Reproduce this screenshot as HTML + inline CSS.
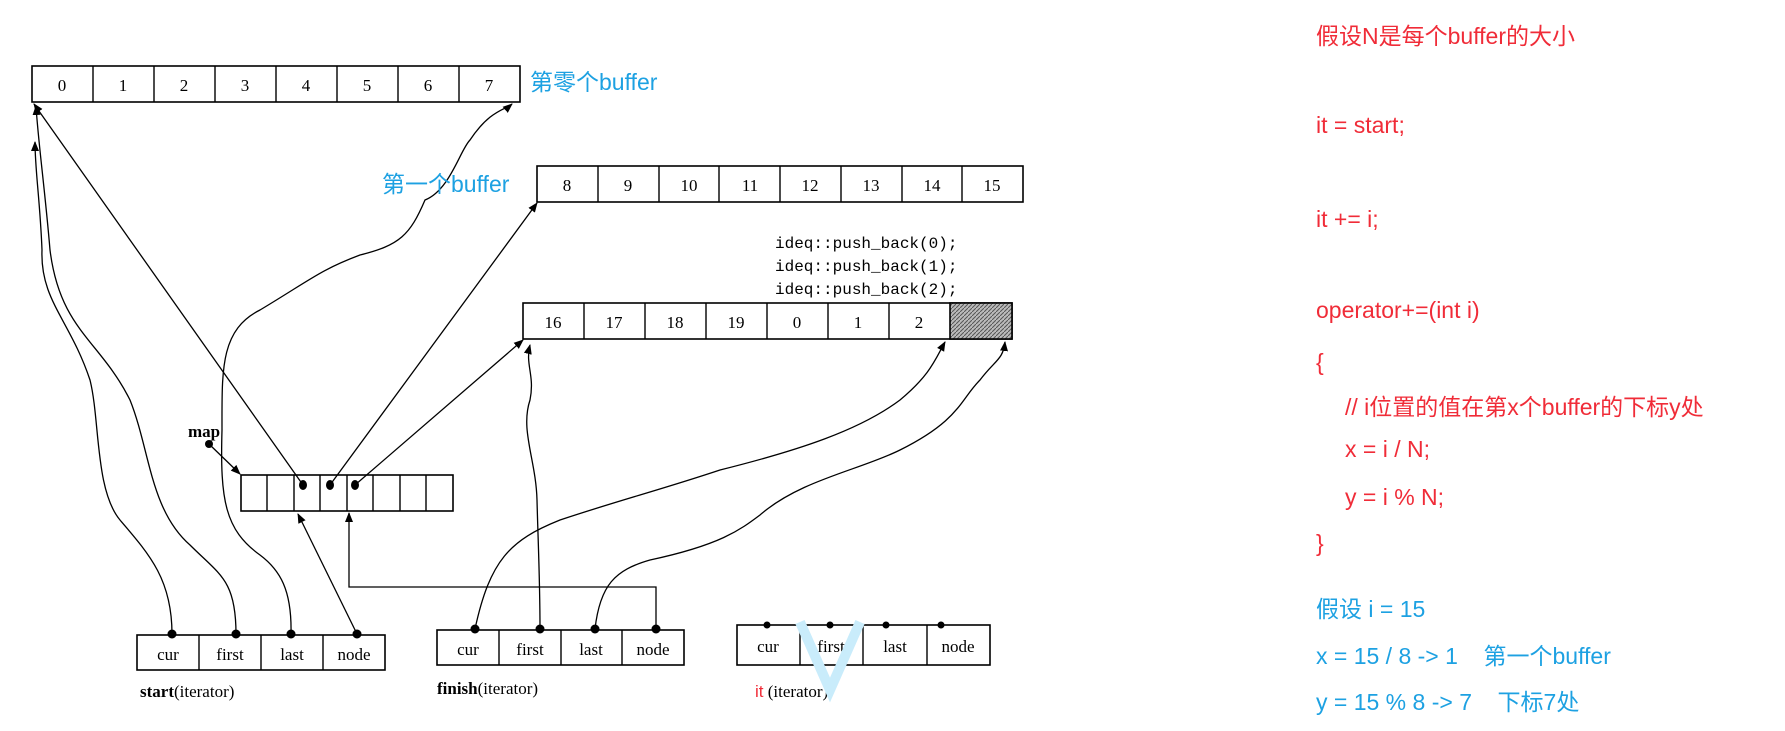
<!DOCTYPE html>
<html><head><meta charset="utf-8"><style>
body{margin:0;width:1785px;height:731px;background:#fff;overflow:hidden;position:relative}
svg{position:absolute;left:0;top:0}
.r{position:absolute;font-family:"Liberation Sans","Noto Sans CJK SC",sans-serif;font-size:23px;color:#f02c38;white-space:pre;line-height:1}
.b{color:#1da1e2}
</style></head><body>
<svg width="1785" height="731" viewBox="0 0 1785 731" font-family="Liberation Serif, serif">
<defs>
<marker id="a" markerWidth="10" markerHeight="10" refX="9" refY="5" orient="auto" markerUnits="userSpaceOnUse"><path d="M0,1 L10,5 L0,9 z" fill="#000"/></marker>
<pattern id="h" width="4" height="4" patternUnits="userSpaceOnUse"><rect width="4" height="4" fill="#bbb"/><path d="M0,4 L4,0" stroke="#555" stroke-width="1"/></pattern>
</defs>
<g stroke="#000" stroke-width="1.6" fill="#fff">
<rect x="32" y="66" width="488" height="36"/>
<rect x="537" y="166" width="486" height="36"/>
<rect x="523" y="303" width="489" height="36"/>
<rect x="950" y="303" width="62" height="36" fill="url(#h)"/>
<rect x="241" y="475" width="212" height="36"/>
<rect x="137" y="635" width="248" height="35"/>
<rect x="437" y="630" width="247" height="35"/>
<rect x="737" y="625" width="253" height="40"/>
</g>
<g stroke="#000" stroke-width="1.4">
<path d="M93,66v36M154,66v36M215,66v36M276,66v36M337,66v36M398,66v36M459,66v36"/>
<path d="M598,166v36M659,166v36M719,166v36M780,166v36M841,166v36M902,166v36M962,166v36"/>
<path d="M584,303v36M645,303v36M706,303v36M767,303v36M828,303v36M889,303v36"/>
<path d="M267,475v36M294,475v36M320,475v36M347,475v36M373,475v36M400,475v36M426,475v36"/>
<path d="M199,635v35M261,635v35M323,635v35"/>
<path d="M499,630v35M561,630v35M622,630v35"/>
<path d="M800,625v40M863,625v40M927,625v40"/>
</g>
<g font-size="17" text-anchor="middle">
<text x="62" y="91">0</text><text x="123" y="91">1</text><text x="184" y="91">2</text><text x="245" y="91">3</text><text x="306" y="91">4</text><text x="367" y="91">5</text><text x="428" y="91">6</text><text x="489" y="91">7</text>
<text x="567" y="191">8</text><text x="628" y="191">9</text><text x="689" y="191">10</text><text x="750" y="191">11</text><text x="810" y="191">12</text><text x="871" y="191">13</text><text x="932" y="191">14</text><text x="992" y="191">15</text>
<text x="553" y="328">16</text><text x="614" y="328">17</text><text x="675" y="328">18</text><text x="736" y="328">19</text><text x="797" y="328">0</text><text x="858" y="328">1</text><text x="919" y="328">2</text>
<text x="168" y="660">cur</text><text x="230" y="660">first</text><text x="292" y="660">last</text><text x="354" y="660">node</text>
<text x="468" y="655">cur</text><text x="530" y="655">first</text><text x="591" y="655">last</text><text x="653" y="655">node</text>
<text x="768" y="652">cur</text><text x="831" y="652">first</text><text x="895" y="652">last</text><text x="958" y="652">node</text>
</g>
<g font-family="Liberation Mono, monospace" font-size="16">
<text x="775" y="248">ideq::push_back(0);</text>
<text x="775" y="271">ideq::push_back(1);</text>
<text x="775" y="294">ideq::push_back(2);</text>
</g>
<text x="188" y="437" font-size="17" font-weight="bold">map</text>
<text x="140" y="697" font-size="17"><tspan font-weight="bold">start</tspan>(iterator)</text>
<text x="437" y="694" font-size="17"><tspan font-weight="bold">finish</tspan>(iterator)</text>
<text x="755" y="697" font-size="17"><tspan fill="#f02c38" font-family="Liberation Sans, sans-serif">it</tspan>  (iterator)</text>
<g fill="#000">
<circle cx="209" cy="444" r="4"/>
<ellipse cx="303" cy="485" rx="4" ry="5"/><ellipse cx="330" cy="485" rx="4" ry="5"/><ellipse cx="355" cy="485" rx="4" ry="5"/>
<circle cx="172" cy="634" r="4.5"/><circle cx="236" cy="634" r="4.5"/><circle cx="291" cy="634" r="4.5"/><circle cx="357" cy="634" r="4.5"/>
<circle cx="475" cy="629" r="4.5"/><circle cx="540" cy="629" r="4.5"/><circle cx="595" cy="629" r="4.5"/><circle cx="656" cy="629" r="4.5"/>
<circle cx="767" cy="625" r="3.5"/><circle cx="830" cy="625" r="3.5"/><circle cx="886" cy="625" r="3.5"/><circle cx="941" cy="625" r="3.5"/>
</g>
<g stroke="#000" stroke-width="1.3" fill="none" marker-end="url(#a)">
<path d="M209,444 L240,474"/>
<path d="M303,485 L34,104"/>
<path d="M330,485 L537,203"/>
<path d="M355,485 L523,340"/>
<path d="M357,634 L298,514"/>
<path d="M656,629 V587 H349 V513"/>
<path d="M172,634 C172,580 150,555 120,520 C95,490 100,420 90,380 C70,320 40,300 42,250 C40,200 35,170 35,142"/>
<path d="M236,634 C236,580 220,575 190,545 C150,510 150,450 130,400 C100,340 60,330 50,250 C45,190 38,140 36,106"/>
<path d="M291,634 C292,590 280,570 260,555 C225,530 220,500 222,430 C222,370 220,330 260,310 C310,280 320,270 360,255 C400,245 410,235 425,200 C450,190 460,150 470,140 C490,110 505,110 512,104"/>
<path d="M540,629 C540,580 538,540 537,500 C536,460 520,430 530,400 C535,375 525,365 530,345"/>
<path d="M475,629 C490,560 510,540 560,520 C620,500 660,490 720,470 C800,450 860,430 900,400 C930,375 935,360 945,342"/>
<path d="M595,629 C600,585 615,570 650,560 C720,545 740,530 760,515 C800,480 860,470 900,450 C960,420 960,400 980,380 C995,360 1003,360 1005,342"/>
</g>
<path d="M800,622 L830,690 L860,622" stroke="#c9ecfb" stroke-width="10" fill="none"/>
</svg>
<div class="r b" style="left:530px;top:71px">第零个buffer</div>
<div class="r b" style="left:382px;top:173px">第一个buffer</div>
<div class="r" style="left:1316px;top:25px">假设N是每个buffer的大小</div>
<div class="r" style="left:1316px;top:114px">it = start;</div>
<div class="r" style="left:1316px;top:208px">it += i;</div>
<div class="r" style="left:1316px;top:299px">operator+=(int i)</div>
<div class="r" style="left:1316px;top:351px">{</div>
<div class="r" style="left:1345px;top:396px">// i位置的值在第x个buffer的下标y处</div>
<div class="r" style="left:1345px;top:438px">x = i / N;</div>
<div class="r" style="left:1345px;top:486px">y = i % N;</div>
<div class="r" style="left:1316px;top:532px">}</div>
<div class="r b" style="left:1316px;top:598px">假设 i = 15</div>
<div class="r b" style="left:1316px;top:645px">x = 15 / 8 -&gt; 1    第一个buffer</div>
<div class="r b" style="left:1316px;top:691px">y = 15 % 8 -&gt; 7    下标7处</div>
</body></html>
